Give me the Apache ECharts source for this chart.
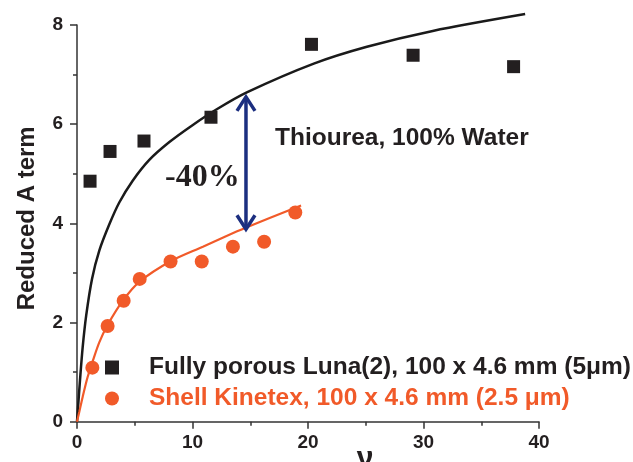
<!DOCTYPE html>
<html>
<head>
<meta charset="utf-8">
<script src="https://cdn.jsdelivr.net/npm/echarts@6/dist/echarts.min.js"></script>
<style>
  html, body { margin: 0; padding: 0; background: #ffffff; }
  #chart { width: 633px; height: 462px; }
</style>
</head>
<body>
<div id="chart"></div>
<script>
// Measured reduced A term vs reduced velocity (nu)
const lunaNu = [1.13, 2.86, 5.8, 11.6, 20.3, 29.1, 37.8];
const lunaA = [4.85, 5.45, 5.66, 6.14, 7.61, 7.39, 7.16];
const kinetexNu = [1.33, 2.65, 4.04, 5.43, 8.1, 10.8, 13.5, 16.2, 18.9];
const kinetexA = [1.09, 1.93, 2.44, 2.88, 3.23, 3.23, 3.53, 3.63, 4.22];

// Fitted curves
const lunaFitNu = [0, 0.1, 0.26, 0.49, 0.8, 1.3, 1.93, 2.8, 3.66, 4.82, 6.26, 8.0, 10.0, 12.1, 14.7, 20.5, 25.1, 30.8, 38.8];
const lunaFitA = [0, 0.32, 0.84, 1.5, 2.15, 2.88, 3.45, 3.98, 4.42, 4.86, 5.28, 5.64, 5.98, 6.3, 6.64, 7.22, 7.56, 7.88, 8.22];
const kinetexFitNu = [0, 0.2, 0.49, 0.92, 1.36, 1.93, 2.65, 4.0, 5.4, 8.14, 10.9, 12.9, 14.6, 19.4];
const kinetexFitA = [0, 0.2, 0.5, 0.9, 1.22, 1.6, 1.95, 2.45, 2.82, 3.24, 3.53, 3.74, 3.91, 4.36];

// Double arrow marking the drop between the two fits: [nu, lower A, upper A]
const gapArrow = [14.63, 3.88, 6.55];

// Axis settings
const xTicks = { min: 0, max: 40, interval: 10 };
const yTicks = { min: 0, max: 8, interval: 2 };

const lunaName = 'Fully porous Luna(2), 100 x 4.6 mm (5\u03bcm)';
const kinetexName = 'Shell Kinetex, 100 x 4.6 mm (2.5 \u03bcm)';

const BLACK = '#231f20';
const ORANGE = '#f15a29';
const NAVY = '#1c2f80';
const SANS = '"Liberation Sans", Arial, sans-serif';

const zip = (xs, ys) => xs.map((v, i) => [v, ys[i]]);

const chart = echarts.init(document.getElementById('chart'));

const axisCommon = {
  axisLine: { show: true, onZero: false, lineStyle: { color: '#333333', width: 1.5 } },
  axisTick: { show: true, inside: false, length: 7, lineStyle: { color: '#333333', width: 1.5 } },
  minorTick: { show: true, splitNumber: 2, length: 4, lineStyle: { color: '#333333', width: 1.5 } },
  splitLine: { show: false },
  axisLabel: { color: BLACK, fontFamily: SANS, fontWeight: 'bold', fontSize: 19 }
};

chart.setOption({
  animation: false,
  backgroundColor: '#ffffff',
  grid: { left: 77, right: 94, top: 25, bottom: 40.3, containLabel: false, outerBoundsMode: 'none' },
  xAxis: Object.assign({}, axisCommon, {
    type: 'value',
    min: xTicks.min, max: xTicks.max, interval: xTicks.interval,
    name: '\u03bd',
    nameLocation: 'middle',
    nameGap: 22,
    nameMoveOverlap: false,
    nameTextStyle: { color: BLACK, fontFamily: SANS, fontWeight: 'bold', fontSize: 30, padding: [0, 0, 0, 114] },
    axisLabel: Object.assign({}, axisCommon.axisLabel, { margin: 12 })
  }),
  yAxis: Object.assign({}, axisCommon, {
    type: 'value',
    min: yTicks.min, max: yTicks.max, interval: yTicks.interval,
    name: 'Reduced A term',
    nameLocation: 'middle',
    nameGap: 38,
    nameMoveOverlap: false,
    nameTextStyle: { color: BLACK, fontFamily: SANS, fontWeight: 'bold', fontSize: 24, padding: [0, 0, 0, 10] },
    axisLabel: Object.assign({}, axisCommon.axisLabel, { margin: 14 })
  }),
  legend: {
    orient: 'vertical',
    left: 100,
    top: 350,
    itemWidth: 14,
    itemHeight: 14,
    itemGap: 6,
    selectedMode: false,
    data: [
      { name: lunaName, textStyle: { color: BLACK } },
      { name: kinetexName, textStyle: { color: ORANGE } }
    ],
    textStyle: { fontFamily: SANS, fontWeight: 'bold', fontSize: 24.5, lineHeight: 24, padding: [0, 0, 0, 25] }
  },
  graphic: [
    {
      type: 'text', left: 165, top: 162, z: 10,
      style: { text: '-40%', fill: '#231f20', font: 'bold 32px "Liberation Serif", "Times New Roman", serif' }
    },
    {
      type: 'text', left: 275, top: 126, z: 10,
      style: { text: 'Thiourea, 100% Water', fill: BLACK, font: 'bold 24.5px ' + SANS }
    }
  ],
  series: [
    {
      name: 'lunaFit', type: 'line', data: zip(lunaFitNu, lunaFitA),
      smooth: 0.3, showSymbol: false, silent: true, clip: false,
      lineStyle: { color: '#1a1a1a', width: 2.5 }, z: 2
    },
    {
      name: 'kinetexFit', type: 'line', data: zip(kinetexFitNu, kinetexFitA),
      smooth: 0.3, showSymbol: false, silent: true, clip: false,
      lineStyle: { color: ORANGE, width: 2.2 }, z: 2
    },
    {
      name: lunaName, type: 'scatter', data: zip(lunaNu, lunaA),
      symbol: 'rect', symbolSize: 13, itemStyle: { color: BLACK, opacity: 1 }, z: 3
    },
    {
      name: kinetexName, type: 'scatter', data: zip(kinetexNu, kinetexA),
      symbol: 'circle', symbolSize: 14, itemStyle: { color: ORANGE, opacity: 1 }, z: 3
    },
    {
      name: 'gapArrow', type: 'custom', data: [gapArrow], z: 5, silent: true,
      encode: { x: 0, y: [1, 2] },
      renderItem: function (params, api) {
        const x = api.value(0);
        const top = api.coord([x, api.value(2)]);
        const bot = api.coord([x, api.value(1)]);
        const w = 9, h = 14;
        const st = { stroke: NAVY, lineWidth: 3.5, fill: null, lineJoin: 'miter', lineCap: 'butt' };
        return {
          type: 'group',
          children: [
            { type: 'line', shape: { x1: top[0], y1: top[1] + 2, x2: bot[0], y2: bot[1] - 2 }, style: st },
            { type: 'polyline', shape: { points: [[top[0] - w, top[1] + h], [top[0], top[1]], [top[0] + w, top[1] + h]] }, style: st },
            { type: 'polyline', shape: { points: [[bot[0] - w, bot[1] - h], [bot[0], bot[1]], [bot[0] + w, bot[1] - h]] }, style: st }
          ]
        };
      }
    }
  ]
});
</script>
</body>
</html>
